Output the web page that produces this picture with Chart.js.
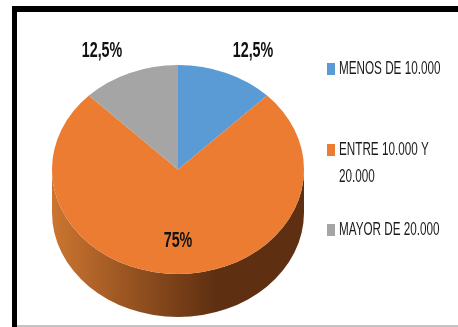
<!DOCTYPE html>
<html>
<head>
<meta charset="utf-8">
<script src="https://cdn.jsdelivr.net/npm/chart.js@4/dist/chart.umd.min.js"></script>
<style>
  html, body { margin: 0; padding: 0; background: #fff; }
  #wrap { position: relative; width: 458px; height: 327px; overflow: hidden; }
  .edge { position: absolute; }
  #edgeTop { left: 12px; right: 0; top: 6px; height: 6px; background: #000; }
  #edgeLeft { left: 12px; width: 5px; top: 6px; bottom: 0; background: #000; }
  #edgeBottom { left: 17px; right: 0; top: 325px; height: 2px; background: #c4c4c4; }
  canvas { position: absolute; left: 0; top: 0; }
</style>
</head>
<body>
<div id="wrap">
  <div class="edge" id="edgeTop"></div>
  <div class="edge" id="edgeLeft"></div>
  <div class="edge" id="edgeBottom"></div>
  <canvas id="pie" width="458" height="327"></canvas>
</div>
<script>
const categories = ['MENOS DE 10.000', 'ENTRE 10.000 Y 20.000', 'MAYOR DE 20.000'];
const legendLines = [['MENOS DE 10.000'], ['ENTRE 10.000 Y', '20.000'], ['MAYOR DE 20.000']];
const percents = [12.5, 75, 12.5];
const colors = ['#5b9bd5', '#eb7c31', '#a5a5a5'];

const SQUASH = 104.5 / 126;   // vertical flattening of the disc
const DEPTH = 43;             // height of the side wall
const LABEL_FONT = '"Liberation Sans", sans-serif';

// no narrow face installed, so squeeze the text horizontally
function narrowText(ctx, text, x, y, squeeze) {
  ctx.save();
  ctx.translate(x, y);
  ctx.scale(squeeze, 1);
  ctx.fillText(text, 0, 0);
  ctx.restore();
}

// tilt the pie: draw the side wall first, then the flattened slices
const tiltPlugin = {
  id: 'tilt',
  beforeDatasetDraw(chart) {
    const arc = chart.getDatasetMeta(0).data[0];
    const { x, y, outerRadius: r } = arc;
    const ctx = chart.ctx;
    const wall = ctx.createLinearGradient(x - r, 0, x + r, 0);
    wall.addColorStop(0, '#cc7530');
    wall.addColorStop(0.65, '#5e2f11');
    wall.addColorStop(1, '#5e2f11');
    ctx.save();
    ctx.fillStyle = wall;
    ctx.beginPath();
    ctx.ellipse(x, y, r, r * SQUASH, 0, 0, Math.PI);
    ctx.lineTo(x - r, y + DEPTH);
    ctx.ellipse(x, y + DEPTH, r, r * SQUASH, 0, Math.PI, 0, true);
    ctx.closePath();
    ctx.fill();
    ctx.restore();

    ctx.save();
    ctx.translate(0, y);
    ctx.scale(1, SQUASH);
    ctx.translate(0, -y);
  },
  afterDatasetDraw(chart) {
    chart.ctx.restore();
  }
};

// percentage labels around the slices
const valueSpots = [[253, 51], [178, 241], [102, 51]];
const valueLabels = {
  id: 'valueLabels',
  afterDatasetsDraw(chart) {
    const ctx = chart.ctx;
    ctx.save();
    ctx.fillStyle = '#111';
    ctx.font = 'bold 22px ' + LABEL_FONT;
    ctx.textAlign = 'center';
    ctx.textBaseline = 'middle';
    percents.forEach((v, i) => {
      const text = String(v).replace('.', ',') + '%';
      narrowText(ctx, text, valueSpots[i][0], valueSpots[i][1], 0.65);
    });
    ctx.restore();
  }
};

// legend on the right, one wrapped entry per category
const legendRows = [69, 150, 230];
const sideLegend = {
  id: 'sideLegend',
  afterDraw(chart) {
    const ctx = chart.ctx;
    ctx.save();
    ctx.font = '18px ' + LABEL_FONT;
    ctx.textBaseline = 'middle';
    legendLines.forEach((lines, i) => {
      ctx.fillStyle = colors[i];
      ctx.fillRect(327, legendRows[i] - 6, 8, 12);
      ctx.fillStyle = '#1a1a1a';
      lines.forEach((line, j) => narrowText(ctx, line, 339, legendRows[i] + j * 27.5, 0.65));
    });
    ctx.restore();
  }
};

new Chart(document.getElementById('pie'), {
  type: 'pie',
  data: {
    labels: categories,
    datasets: [{ data: percents, backgroundColor: colors, borderWidth: 0 }]
  },
  options: {
    responsive: false,
    animation: false,
    layout: { padding: { left: 52, right: 154, top: 43.5, bottom: 31.5 } },
    plugins: { legend: { display: false }, tooltip: { enabled: false } }
  },
  plugins: [tiltPlugin, valueLabels, sideLegend]
});
</script>
</body>
</html>
